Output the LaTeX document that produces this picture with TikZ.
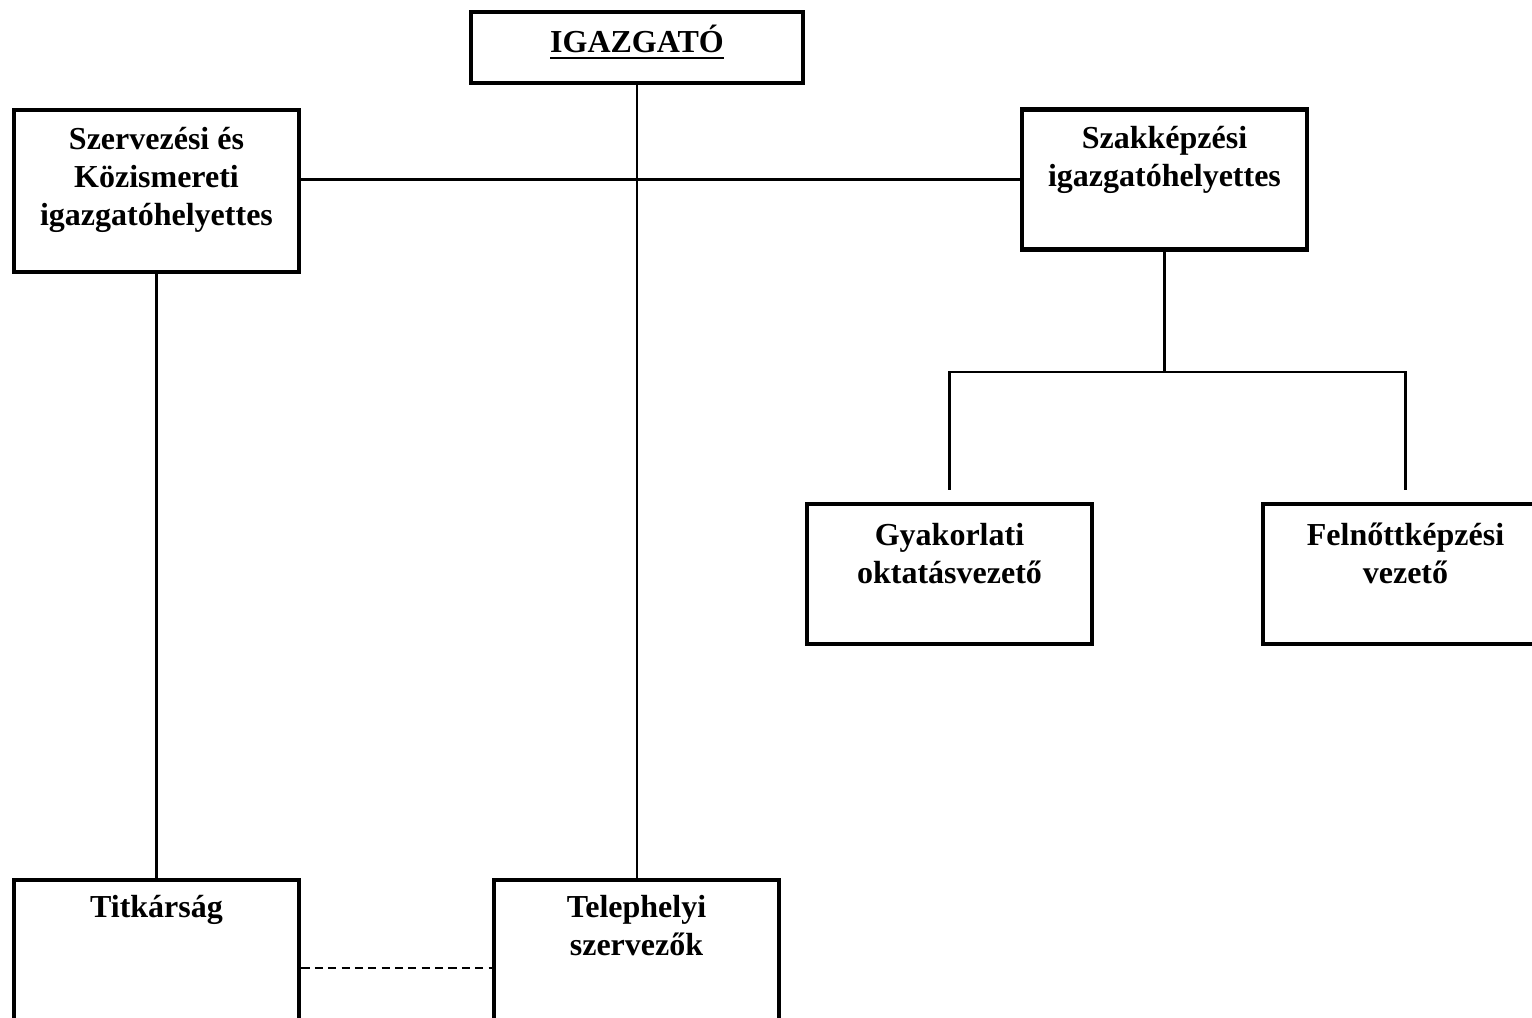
\documentclass[tikz,border=0pt]{standalone}
\usepackage{fontspec}
\setmainfont{Liberation Serif}
\usetikzlibrary{calc, positioning}
\tikzset{>=latex}

\newcommand{\boxlines}[1]{\begin{tabular}[t]{@{}c@{}}#1\end{tabular}}
\newcommand{\thickul}[1]{\leavevmode\vtop{\hbox{#1}\kern1.1pt\hrule height 0.75pt}}

\begin{document}
\begin{tikzpicture}[x=0.01cm, y=-0.01cm,
		orgbox/.style={draw, line width=1.35pt, minimum width=2.85cm, inner sep=0pt},
		lbl/.style={anchor=base, inner sep=0pt, font=\fontsize{9.1}{10.8}\selectfont\bfseries},
		conn/.style={line width=0.6pt}]
		\useasboundingbox (0,0) rectangle (1532,1018);
		\clip (0,0) rectangle (1532,1018);
		% boxes
		\node[orgbox, minimum width=3.32cm, minimum height=0.71cm] (igazgato) at (637,47.5) {};
		\node[orgbox, minimum height=1.62cm] (szervezesi) at (156.5,191) {};
		\node[orgbox, minimum height=1.40cm] (szakkepzesi) at (1164.5,179.5) {};
		\node[orgbox, minimum height=1.40cm] (gyakorlati) at (949.5,574) {};
		\node[orgbox, minimum height=1.40cm] (felnott) at (1405.5,574) {};
		\node[orgbox, minimum height=1.76cm] (titkarsag) at (156.5,968) {};
		\node[orgbox, minimum height=1.76cm] (telephelyi) at (636.5,968) {};
		% texts
		\node[lbl] (igazgato-t) at ($(igazgato.north)+(0,43)$) {\thickul{IGAZGATÓ}};
		\node[lbl] (szervezesi-t) at ($(szervezesi.north)+(0,42)$) {\boxlines{Szervezési és\\Közismereti\\igazgatóhelyettes}};
		\node[lbl] (szakkepzesi-t) at ($(szakkepzesi.north)+(0,41)$) {\boxlines{Szakképzési\\igazgatóhelyettes}};
		\node[lbl] (gyakorlati-t) at ($(gyakorlati.north)+(0,44)$) {\boxlines{Gyakorlati\\oktatásvezető}};
		\node[lbl] (felnott-t) at ($(felnott.north)+(0,44)$) {\boxlines{Felnőttképzési\\vezető}};
		\node[lbl] (titkarsag-t) at ($(titkarsag.north)+(0,40)$) {Titkárság};
		\node[lbl] (telephelyi-t) at ($(telephelyi.north)+(0,40)$) {\boxlines{Telephelyi\\szervezők}};
		% connectors
		\draw[conn] (igazgato.south) -- (igazgato.south |- telephelyi.north);
		\draw[conn] (szakkepzesi.west) -- (szakkepzesi.west -| szervezesi.east);
		\draw[conn] (szervezesi.south) -- (titkarsag.north);
		\coordinate (fork) at ($(szakkepzesi.south)+(0,120)$);
		\draw[conn] (szakkepzesi.south) -- (fork);
		\draw[conn] ($(gyakorlati.north)+(0,-12)$) |- (fork) -| ($(felnott.north)+(0,-12)$);
		\draw[conn, dash pattern=on 2.3pt off 1.5pt] (titkarsag.east) -- (telephelyi.west);
	\end{tikzpicture}
\end{document}
